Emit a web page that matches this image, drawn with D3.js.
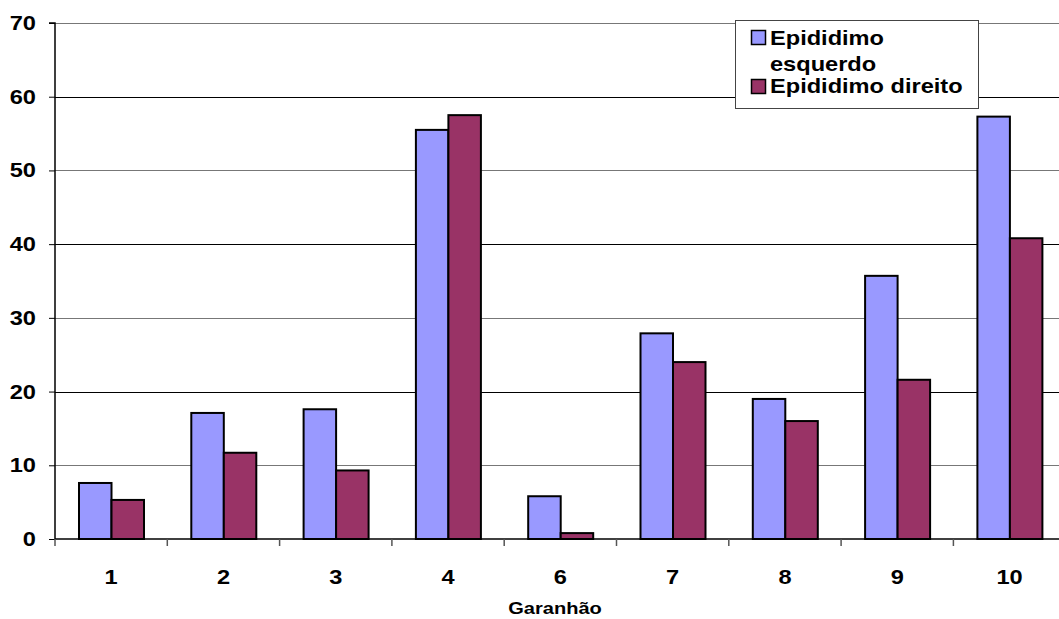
<!DOCTYPE html>
<html><head><meta charset="utf-8">
<script src="https://cdn.jsdelivr.net/npm/d3@7"></script>
<style>body{margin:0;background:#fff}svg{display:block;font-family:"Liberation Sans",Arial,sans-serif;font-weight:bold}</style>
</head><body><svg id="c" width="1059" height="619"></svg>
<script>
const categories = ["1","2","3","4","6","7","8","9","10"];
const seriesNames = ["Epididimo esquerdo","Epididimo direito"];
const esquerdo = [7.6,17.1,17.6,55.5,5.8,27.9,19.0,35.7,57.3];
const direito  = [5.3,11.7,9.3,57.5,0.8,24.0,16.0,21.6,40.8];
const yTicks = [0,10,20,30,40,50,60,70];
const colors = ["#9999FF","#993366"];
const FONT = "'Liberation Sans',Arial,sans-serif";
const SX = 1.18; // horizontal stretch of text in reference

const svg = d3.select("#c");
const mLeft = 55, mTop = 23, mBottom = 539;
const bandW = 112.3;
const mRight = mLeft + bandW*categories.length;
const x0 = d3.scaleBand().domain(categories).range([mLeft,mRight]);
const x1 = d3.scaleBand().domain([0,1]).range([24, 24+65]);
const y = d3.scaleLinear().domain([0,70]).range([mBottom,mTop]);

function stext(parent, x, yy, str, size, anchor){
  return parent.append("text")
    .attr("transform",`translate(${x},${yy}) scale(${SX},1)`)
    .attr("text-anchor",anchor||"start").attr("font-size",size)
    .attr("font-weight","bold").attr("font-family",FONT).attr("fill","#000").text(str);
}

// gridlines
svg.append("g").selectAll("line").data(yTicks.filter(d=>d>0)).join("line")
  .attr("x1",mLeft).attr("x2",1059).attr("y1",d=>Math.round(y(d))+0.5).attr("y2",d=>Math.round(y(d))+0.5)
  .attr("stroke",(d,i)=>i%2?"#000":"#777").attr("stroke-width",1);

// bars
const data = categories.map((c,i)=>({c, v:[esquerdo[i],direito[i]]}));
const g = svg.append("g");
data.forEach(d=>{
  d.v.forEach((v,j)=>{
    g.append("rect")
      .attr("x", x0(d.c)+x1(j))
      .attr("y", y(v))
      .attr("width", x1.bandwidth())
      .attr("height", mBottom - y(v))
      .attr("fill", colors[j]).attr("stroke","#000").attr("stroke-width",2);
  });
});

// y axis
const yAxis = d3.axisLeft(y).tickValues(yTicks).tickSize(6).tickFormat("");
const ya = svg.append("g").attr("transform",`translate(${mLeft},0)`).call(yAxis);
ya.select(".domain").attr("stroke","#000").attr("stroke-width",1.5).attr("d",`M-6,${mTop}H0V${mBottom}`);
ya.selectAll(".tick line").attr("stroke","#000");
const yl = svg.append("g");
yTicks.forEach(t=>stext(yl, 36, y(t)+7, String(t), 20, "end"));

// x axis
const xa = svg.append("g").attr("transform",`translate(0,${mBottom})`);
xa.append("line").attr("x1",mLeft).attr("x2",1059).attr("y1",0).attr("y2",0).attr("stroke","#000").attr("stroke-width",1.5);
xa.selectAll(".tk").data(d3.range(categories.length+1)).join("line")
  .attr("x1",i=>mLeft+i*bandW).attr("x2",i=>mLeft+i*bandW).attr("y1",0).attr("y2",7).attr("stroke","#555").attr("stroke-width",1.5);
categories.forEach(c=>stext(xa, x0(c)+x0.bandwidth()/2, 45, c, 20, "middle"));

stext(svg, 555, 614, "Garanhão", 17, "middle");

// legend
const lg = svg.append("g");
lg.append("rect").attr("x",735.5).attr("y",20.5).attr("width",243).attr("height",88).attr("fill","#fff").attr("stroke","#444").attr("stroke-width",1);
lg.append("rect").attr("x",751.5).attr("y",30.5).attr("width",14).attr("height",14).attr("fill",colors[0]).attr("stroke","#000").attr("stroke-width",1.5);
lg.append("rect").attr("x",751.5).attr("y",79.5).attr("width",14).attr("height",14).attr("fill",colors[1]).attr("stroke","#000").attr("stroke-width",1.5);
stext(lg, 770, 45, "Epididimo", 20);
stext(lg, 770, 71, "esquerdo", 20);
stext(lg, 770, 93, seriesNames[1], 20);
</script></body></html>
